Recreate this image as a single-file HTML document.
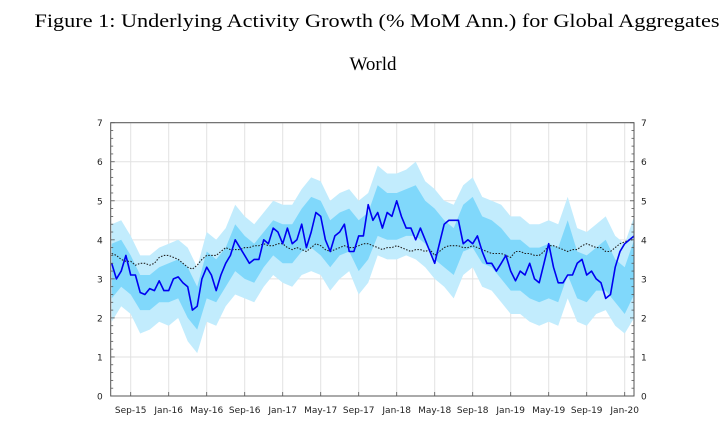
<!DOCTYPE html>
<html><head><meta charset="utf-8"><style>
body{margin:0;background:#fff;width:728px;height:432px;overflow:hidden}
svg{display:block}
</style></head><body>
<svg id="c" width="728" height="432">
<defs><clipPath id="pc"><rect x="110.7" y="122.7" width="523.3" height="273.3"/></clipPath></defs>
<text x="377" y="27" text-anchor="middle" font-family="Liberation Serif, serif" font-size="19" textLength="685" lengthAdjust="spacingAndGlyphs">Figure 1: Underlying Activity Growth (% MoM Ann.) for Global Aggregates</text>
<text x="373" y="70" text-anchor="middle" font-family="Liberation Serif, serif" font-size="19">World</text>
</svg>
<script>
const xLabels=["Sep-15","Jan-16","May-16","Sep-16","Jan-17","May-17","Sep-17","Jan-18","May-18","Sep-18","Jan-19","May-19","Sep-19","Jan-20"];
const xLabelMonths=[2,6,10,14,18,22,26,30,34,38,42,46,50,54];
const yTicks=[0,1,2,3,4,5,6,7];
// half-monthly from Jul-2015
const growth=[3.4,3.0,3.2,3.6,3.1,3.1,2.65,2.6,2.75,2.7,2.95,2.7,
2.7,3.0,3.05,2.9,2.8,2.2,2.3,3.0,3.3,3.1,2.7,3.1,3.4,3.6,4.0,3.8,3.6,3.4,3.5,3.5,4.0,3.9,4.3,4.2,
3.9,4.3,3.9,4.0,4.4,3.8,4.2,4.7,4.6,4.0,3.7,4.1,4.2,4.4,3.7,3.7,4.1,4.1,4.9,4.5,4.7,4.3,4.7,4.6,
5.0,4.6,4.3,4.3,4.0,4.3,4.0,3.7,3.4,3.9,4.4,4.5,4.5,4.5,3.9,4.0,3.9,4.1,3.7,3.4,3.4,3.2,3.4,3.6,
3.2,2.95,3.2,3.1,3.4,3.0,2.9,3.4,3.9,3.3,2.9,2.9,3.1,3.1,3.4,3.5,3.1,3.2,3.0,2.9,2.5,2.6,3.3,3.7,
3.9,4.0,4.1];
const trend=[3.65,3.6,3.5,3.45,3.45,3.35,3.4,3.4,3.35,3.4,3.55,3.6,
3.6,3.55,3.5,3.4,3.3,3.25,3.35,3.5,3.6,3.6,3.6,3.7,3.8,3.75,3.75,3.75,3.8,3.8,3.85,3.85,3.9,3.85,3.85,3.9,
3.9,3.8,3.75,3.8,3.75,3.7,3.8,3.9,3.85,3.75,3.7,3.75,3.8,3.85,3.8,3.8,3.85,3.9,3.9,3.85,3.8,3.75,3.8,3.8,
3.85,3.8,3.75,3.7,3.75,3.75,3.7,3.75,3.6,3.7,3.8,3.85,3.85,3.85,3.8,3.8,3.85,3.8,3.75,3.7,3.65,3.65,3.65,3.6,
3.55,3.7,3.7,3.65,3.65,3.6,3.6,3.7,3.85,3.85,3.8,3.75,3.7,3.75,3.75,3.85,3.9,3.85,3.8,3.8,3.7,3.7,3.8,3.9,
3.95,4.0,4.0];
// monthly bands from Jul-2015
const outerHi=[4.4,4.5,4.1,3.6,3.6,3.8,3.9,4.0,3.8,3.3,4.2,4.0,4.3,4.9,4.6,4.4,4.7,5.0,4.9,4.9,5.3,5.6,5.5,5.0,5.2,5.3,5.0,5.2,5.9,5.7,5.7,5.8,6.0,5.5,5.3,5.0,4.9,5.4,5.6,5.1,5.0,4.9,4.6,4.6,4.4,4.4,4.5,4.4,5.1,4.3,4.2,4.4,4.6,4.1,3.9,4.6,4.9,5.1];
const outerLo=[1.9,2.3,2.1,1.6,1.7,1.9,1.8,2.0,1.4,1.1,1.9,1.8,2.3,2.6,2.5,2.4,2.8,3.1,2.9,2.8,3.1,3.2,3.1,2.7,3.0,3.2,2.6,2.9,3.6,3.5,3.5,3.6,3.5,3.3,3.0,2.8,2.5,3.1,3.3,2.8,2.7,2.4,2.1,2.1,1.9,1.8,1.9,1.8,2.5,1.9,1.8,2.1,2.2,1.8,1.6,2.0,2.9,3.0];
const innerHi=[3.9,4.0,3.6,3.1,3.1,3.3,3.4,3.5,3.3,2.8,3.7,3.5,3.8,4.4,4.1,3.9,4.2,4.5,4.4,4.4,4.8,5.1,5.0,4.5,4.7,4.8,4.5,4.7,5.4,5.2,5.2,5.3,5.4,5.0,4.8,4.5,4.3,4.9,5.1,4.6,4.5,4.3,4.0,4.0,3.8,3.8,3.9,3.8,4.5,3.7,3.6,3.8,4.0,3.5,3.3,4.0,4.4,4.5];
const innerLo=[2.5,2.8,2.6,2.2,2.2,2.4,2.4,2.5,2.0,1.7,2.5,2.4,2.8,3.2,3.0,2.9,3.3,3.6,3.4,3.4,3.7,3.8,3.6,3.3,3.6,3.7,3.2,3.5,4.1,4.0,4.0,4.1,4.1,3.9,3.5,3.3,3.1,3.7,3.8,3.4,3.3,3.0,2.7,2.7,2.5,2.4,2.5,2.4,3.1,2.5,2.4,2.7,2.7,2.4,2.1,2.6,3.4,3.6];

const NS="http://www.w3.org/2000/svg";
const svg=document.getElementById('c');
const L=110.7,R=634,T=122.7,B=396;
const xS=t=>130.7+(t-2)*9.5;
const yS=v=>B-v*(B-T)/7;
function mk(tag,attrs,parent){const e=document.createElementNS(NS,tag);for(const k in attrs)e.setAttribute(k,attrs[k]);(parent||svg).appendChild(e);return e;}
const g=mk('g',{});


yTicks.forEach(v=>{const l=mk('line',{x1:L,x2:R,y1:yS(v),y2:yS(v),stroke:'#e2e2e2','stroke-width':1},g);

});
xLabelMonths.forEach(m=>{const l=mk('line',{x1:xS(m),x2:xS(m),y1:T,y2:B,stroke:'#e2e2e2','stroke-width':1},g);

});
const pg=mk('g',{'clip-path':'url(#pc)'});


function band(hi,lo,col,name){
 let d='';hi.forEach((v,i)=>{d+=(i?'L':'M')+xS(i).toFixed(1)+','+yS(v).toFixed(1);});
 for(let i=lo.length-1;i>=0;i--)d+='L'+xS(i).toFixed(1)+','+yS(lo[i]).toFixed(1);
 const p=mk('path',{d:d+'Z',fill:col,stroke:'none'},pg);
 
 
}
band(outerHi,outerLo,'#c2ecfd','outer-uncertainty-band');
band(innerHi,innerLo,'#80d8fb','inner-uncertainty-band');
function line(arr,attrs,name){
 const d=arr.map((v,i)=>(i?'L':'M')+xS(i/2).toFixed(1)+','+yS(v).toFixed(1)).join('');
 const p=mk('path',Object.assign({d:d,fill:'none'},attrs),pg);
 
 
}
line(trend,{stroke:'#222','stroke-width':1.1,'stroke-dasharray':'1.5,1.5'},'trend-line');
line(growth,{stroke:'#0000f0','stroke-width':1.6,'stroke-linejoin':'round'},'growth-line');
const f=mk('rect',{x:L,y:T,width:R-L,height:B-T,fill:'none',stroke:'#555','stroke-width':1});


for(let v=0;v<=7.001;v+=0.2){const y=yS(v);const major=Math.abs(v-Math.round(v))<0.01;const w=major?4:2.5;
 const a=mk('line',{x1:L,x2:L+w,y1:y,y2:y,stroke:'#555','stroke-width':0.8});
 
 
 const b=mk('line',{x1:R-w,x2:R,y1:y,y2:y,stroke:'#555','stroke-width':0.8});
 
 }
yTicks.forEach(v=>{
 const a=mk('text',{x:L-8,y:yS(v)+3.5,'text-anchor':'end','font-family':'DejaVu Sans, sans-serif','font-size':9,fill:'#222'});a.textContent=v;
 
 
 const b=mk('text',{x:R+7,y:yS(v)+3.5,'text-anchor':'start','font-family':'DejaVu Sans, sans-serif','font-size':9,fill:'#222'});b.textContent=v;
 
 
});
xLabels.forEach((s,i)=>{
 const t=mk('text',{x:xS(xLabelMonths[i]),y:413,'text-anchor':'middle','font-family':'DejaVu Sans, sans-serif','font-size':9,fill:'#222'});t.textContent=s;
 
 
 const k=mk('line',{x1:xS(xLabelMonths[i]),x2:xS(xLabelMonths[i]),y1:B,y2:B-4,stroke:'#555','stroke-width':0.8});
 
 
});
</script>
</body></html>
